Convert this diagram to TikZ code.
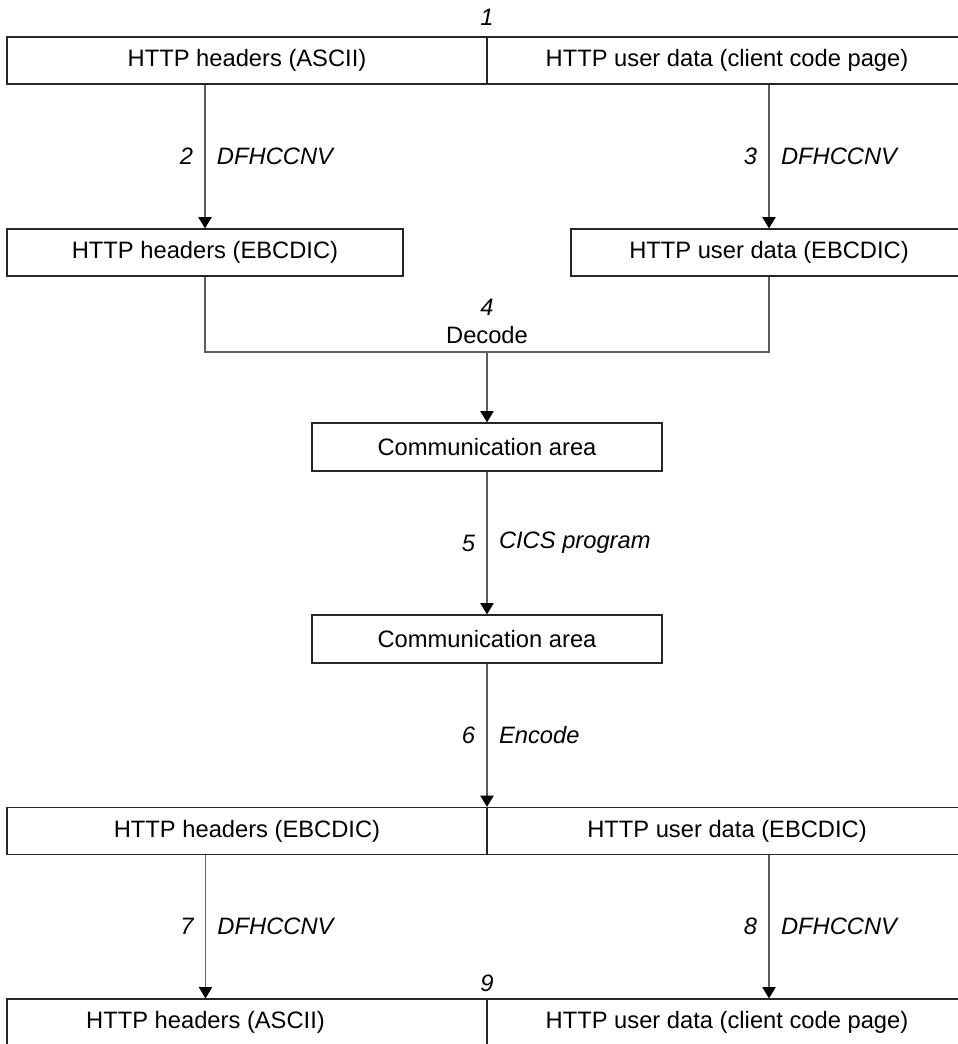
\documentclass[tikz,border=0pt]{standalone}
\usepackage{fontspec}
\setmainfont{Liberation Sans}
\usetikzlibrary{arrows.meta}

\definecolor{boxline}{HTML}{262626}
\definecolor{wireline}{HTML}{5E5E5E}

\tikzset{
	cell/.style={rectangle, draw=boxline, line width=0.75pt, inner sep=0pt, minimum height=0.94cm, font=\fontsize{13.5}{16}\selectfont},
	plain/.style={inner sep=0pt, font=\fontsize{13.5}{16}\selectfont},
	tag/.style={inner sep=0pt, font=\fontsize{13.5}{16}\selectfont\itshape},
	wire/.style={draw=wireline, line width=0.65pt},
	flow/.style={wire, -{Triangle[width=7.6pt,length=6.4pt,fill=black,color=black]}},
	num/.style={left, inner sep=6.5pt, font=\fontsize{13.5}{16}\selectfont\itshape},
	act/.style={right, inner sep=6.5pt, font=\fontsize{13.5}{16}\selectfont\itshape}
}

\begin{document}
\begin{tikzpicture}

	\useasboundingbox (0,0) rectangle (19.14,-20.88);

	\node 	(n1)		at	(9.74,-0.34) 	[tag]{1};

	\node 	(hdrA)		at	(4.94,-1.21) 	[cell, minimum width=9.6cm]{HTTP headers (ASCII)};
	\node 	(usrA)		at	(14.54,-1.21) 	[cell, minimum width=9.6cm]{HTTP user data (client code page)};

	\node 	(hdrE)		at	(4.10,-5.05) 	[cell, minimum width=7.92cm]{HTTP headers (EBCDIC)};
	\node 	(usrE)		at	(15.38,-5.05) 	[cell, minimum width=7.92cm]{HTTP user data (EBCDIC)};

	\node 	(n4)		at	(9.74,-6.14) 	[tag]{4};
	\node 	(dec)		at	(9.74,-6.70) 	[plain]{Decode};
	\coordinate 	(join)	at	(9.74,-7.04);

	\node 	(comm1)		at	(9.74,-8.94) 	[cell, minimum width=7cm, minimum height=0.96cm]{Communication area};
	\node 	(comm2)		at	(9.74,-12.78) 	[cell, minimum width=7cm, minimum height=0.96cm]{Communication area};

	\node 	(hdrE2)		at	(4.94,-16.62) 	[cell, minimum width=9.6cm]{HTTP headers (EBCDIC)};
	\node 	(usrE2)		at	(14.54,-16.62) 	[cell, minimum width=9.6cm]{HTTP user data (EBCDIC)};

	\node 	(n9)		at	(9.74,-19.66) 	[tag]{9};

	\node 	(hdrA2)		at	(4.94,-20.45) 	[cell, minimum width=9.6cm]{};
	\node 	(hdrA2t)	at	(4.11,-20.45) 	[plain]{HTTP headers (ASCII)};
	\node 	(usrA2)		at	(14.54,-20.45) 	[cell, minimum width=9.6cm]{HTTP user data (client code page)};

	\draw[flow]	(hdrE.north |- hdrA.south)	to	node[num]{2}	node[act]{DFHCCNV}	(hdrE.north);
	\draw[flow]	(usrE.north |- usrA.south)	to	node[num]{3}	node[act]{DFHCCNV}	(usrE.north);

	\draw[wire]	(hdrE.south)	|-	(join)	-|	(usrE.south);
	\draw[flow]	(join)	to	(comm1.north);

	\draw[flow]	(comm1)	to	node[num]{5}	node[act]{CICS program}	(comm2);
	\draw[flow]	(comm2)	to	node[num]{6}	node[act]{Encode}	(comm2 |- hdrE2.north);

	\draw[flow]	(hdrA2t |- hdrE2.south)	to	node[num]{7}	node[act]{DFHCCNV}	(hdrA2t |- hdrA2.north);
	\draw[flow]	(usrE.south |- usrE2.south)	to	node[num]{8}	node[act]{DFHCCNV}	(usrE.south |- usrA2.north);

\end{tikzpicture}
\end{document}
